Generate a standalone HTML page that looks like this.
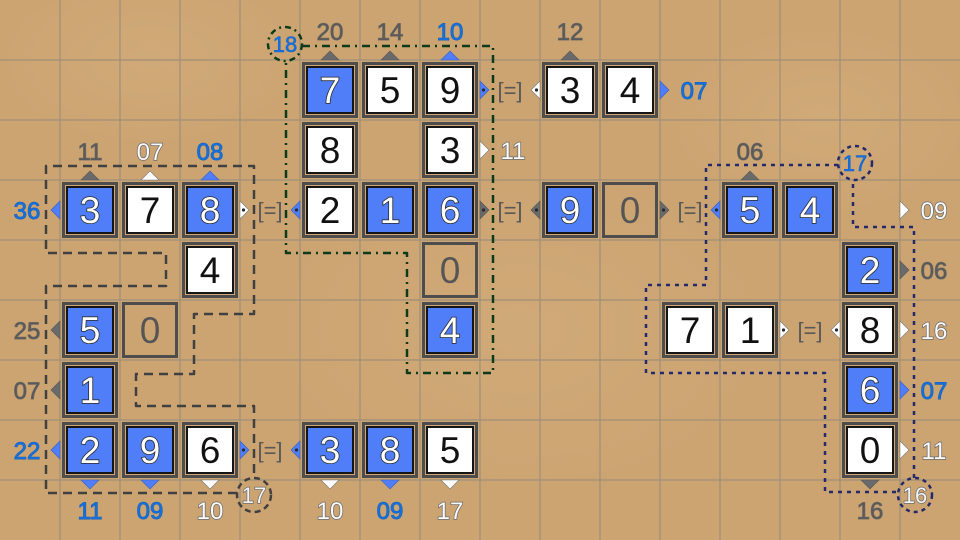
<!DOCTYPE html>
<html><head><meta charset="utf-8">
<style>
html,body{margin:0;padding:0;background:#cca472;}
svg{display:block;}
text{font-family:"Liberation Sans",Arial,sans-serif;text-anchor:middle;}
.dw{font-size:37px;fill:#fff;stroke:#2a2a2a;stroke-width:1.6px;paint-order:stroke;}
.dk{font-size:37px;fill:#111;}
.de{font-size:37px;fill:#555;}
.lb{font-size:24px;fill:#1570dc;stroke:#1a5fb0;stroke-width:0.9px;paint-order:stroke;}
.lg{font-size:24px;fill:#5a5a5a;stroke:#7a7062;stroke-width:1px;paint-order:stroke;}
.lw{font-size:24px;fill:#fbfbfb;stroke:#6a6a6a;stroke-width:1.5px;paint-order:stroke;}
.eq{font-size:22px;fill:#585858;}
.cb{font-size:22px;fill:#1570dc;stroke:#1a5fb0;stroke-width:0.6px;paint-order:stroke;}
.cw{font-size:22px;fill:#f4f4f4;stroke:#6a6a6a;stroke-width:1.4px;paint-order:stroke;}
</style></head>
<body>
<svg width="960" height="540" viewBox="0 0 960 540" xmlns="http://www.w3.org/2000/svg">
<defs>
  <radialGradient id="sw1" cx="0.5" cy="0.5" r="0.5">
    <stop offset="0" stop-color="#d3ad7c" stop-opacity="0.6"/>
    <stop offset="1" stop-color="#d3ad7c" stop-opacity="0"/>
  </radialGradient>
  <g id="tb"><rect x="3.5" y="3.5" width="53" height="53" fill="#cfa775" stroke="#4d4d4d" stroke-width="3"/><rect x="7" y="7" width="46" height="46" fill="#4f7ef8" stroke="#151515" stroke-width="2"/></g>
  <g id="tw"><rect x="3.5" y="3.5" width="53" height="53" fill="#cfa775" stroke="#4d4d4d" stroke-width="3"/><rect x="7" y="7" width="46" height="46" fill="#ffffff" stroke="#151515" stroke-width="2"/></g>
  <g id="te"><rect x="3.5" y="3.5" width="53" height="53" fill="none" stroke="#4d4d4d" stroke-width="3"/></g>
</defs>
<rect width="960" height="540" fill="#cca472"/>
<ellipse cx="520" cy="330" rx="260" ry="170" fill="url(#sw1)"/>
<ellipse cx="150" cy="60" rx="160" ry="90" fill="url(#sw1)"/>
<ellipse cx="820" cy="120" rx="160" ry="100" fill="url(#sw1)"/>
<!-- grid -->
<g stroke="#9e8f78" stroke-width="1.2">
<line x1="60" y1="0" x2="60" y2="540"/><line x1="120" y1="0" x2="120" y2="540"/><line x1="180" y1="0" x2="180" y2="540"/><line x1="240" y1="0" x2="240" y2="540"/><line x1="300" y1="0" x2="300" y2="540"/><line x1="360" y1="0" x2="360" y2="540"/><line x1="420" y1="0" x2="420" y2="540"/><line x1="480" y1="0" x2="480" y2="540"/><line x1="540" y1="0" x2="540" y2="540"/><line x1="600" y1="0" x2="600" y2="540"/><line x1="660" y1="0" x2="660" y2="540"/><line x1="720" y1="0" x2="720" y2="540"/><line x1="780" y1="0" x2="780" y2="540"/><line x1="840" y1="0" x2="840" y2="540"/><line x1="900" y1="0" x2="900" y2="540"/>
<line x1="0" y1="60" x2="960" y2="60"/><line x1="0" y1="120" x2="960" y2="120"/><line x1="0" y1="180" x2="960" y2="180"/><line x1="0" y1="240" x2="960" y2="240"/><line x1="0" y1="300" x2="960" y2="300"/><line x1="0" y1="360" x2="960" y2="360"/><line x1="0" y1="420" x2="960" y2="420"/><line x1="0" y1="480" x2="960" y2="480"/>
</g>

<!-- cages -->
<g fill="none" stroke-width="2.5" stroke-linejoin="round">
  <path d="M237,493 H46 V286 H166 V253 H46 V166 H254 V314 H194 V374 H136 V406 H254 V478" stroke="#404040" stroke-dasharray="9 6"/>
  <circle cx="254" cy="495" r="17" stroke="#404040" stroke-dasharray="6 4"/>
  <path d="M302,46 H493 V373 H407 V253 H286 V61" stroke="#0e3a1c" stroke-dasharray="8 5 2 5"/>
  <circle cx="285" cy="44" r="17" stroke="#0e3a1c" stroke-dasharray="6 4 2 4"/>
  <path d="M838,165 H706 V285 H646 V373 H825 V492 H898" stroke="#24296a" stroke-dasharray="4 5"/>
  <path d="M914,478 V227 H853 V180" stroke="#24296a" stroke-dasharray="4 5"/>
  <circle cx="855" cy="163" r="17" stroke="#24296a" stroke-dasharray="4 4"/>
  <circle cx="915" cy="495" r="17" stroke="#24296a" stroke-dasharray="4 4"/>
</g>
<text class="cw" x="254" y="503">17</text>
<text class="cb" x="285" y="52">18</text>
<text class="cb" x="855" y="171">17</text>
<text class="cw" x="915" y="503">16</text>

<!-- tiles blue -->
<g transform="translate(300,60)"><use href="#tb"/><text class="dw" x="30" y="43">7</text></g>
<g transform="translate(60,180)"><use href="#tb"/><text class="dw" x="30" y="43">3</text></g>
<g transform="translate(180,180)"><use href="#tb"/><text class="dw" x="30" y="43">8</text></g>
<g transform="translate(360,180)"><use href="#tb"/><text class="dw" x="30" y="43">1</text></g>
<g transform="translate(420,180)"><use href="#tb"/><text class="dw" x="30" y="43">6</text></g>
<g transform="translate(540,180)"><use href="#tb"/><text class="dw" x="30" y="43">9</text></g>
<g transform="translate(720,180)"><use href="#tb"/><text class="dw" x="30" y="43">5</text></g>
<g transform="translate(780,180)"><use href="#tb"/><text class="dw" x="30" y="43">4</text></g>
<g transform="translate(840,240)"><use href="#tb"/><text class="dw" x="30" y="43">2</text></g>
<g transform="translate(60,300)"><use href="#tb"/><text class="dw" x="30" y="43">5</text></g>
<g transform="translate(420,300)"><use href="#tb"/><text class="dw" x="30" y="43">4</text></g>
<g transform="translate(60,360)"><use href="#tb"/><text class="dw" x="30" y="43">1</text></g>
<g transform="translate(840,360)"><use href="#tb"/><text class="dw" x="30" y="43">6</text></g>
<g transform="translate(60,420)"><use href="#tb"/><text class="dw" x="30" y="43">2</text></g>
<g transform="translate(120,420)"><use href="#tb"/><text class="dw" x="30" y="43">9</text></g>
<g transform="translate(300,420)"><use href="#tb"/><text class="dw" x="30" y="43">3</text></g>
<g transform="translate(360,420)"><use href="#tb"/><text class="dw" x="30" y="43">8</text></g>
<!-- tiles white -->
<g transform="translate(360,60)"><use href="#tw"/><text class="dk" x="30" y="43">5</text></g>
<g transform="translate(420,60)"><use href="#tw"/><text class="dk" x="30" y="43">9</text></g>
<g transform="translate(540,60)"><use href="#tw"/><text class="dk" x="30" y="43">3</text></g>
<g transform="translate(600,60)"><use href="#tw"/><text class="dk" x="30" y="43">4</text></g>
<g transform="translate(300,120)"><use href="#tw"/><text class="dk" x="30" y="43">8</text></g>
<g transform="translate(420,120)"><use href="#tw"/><text class="dk" x="30" y="43">3</text></g>
<g transform="translate(120,180)"><use href="#tw"/><text class="dk" x="30" y="43">7</text></g>
<g transform="translate(300,180)"><use href="#tw"/><text class="dk" x="30" y="43">2</text></g>
<g transform="translate(180,240)"><use href="#tw"/><text class="dk" x="30" y="43">4</text></g>
<g transform="translate(660,300)"><use href="#tw"/><text class="dk" x="30" y="43">7</text></g>
<g transform="translate(720,300)"><use href="#tw"/><text class="dk" x="30" y="43">1</text></g>
<g transform="translate(840,300)"><use href="#tw"/><text class="dk" x="30" y="43">8</text></g>
<g transform="translate(180,420)"><use href="#tw"/><text class="dk" x="30" y="43">6</text></g>
<g transform="translate(420,420)"><use href="#tw"/><text class="dk" x="30" y="43">5</text></g>
<g transform="translate(840,420)"><use href="#tw"/><text class="dk" x="30" y="43">0</text></g>
<!-- empty tiles -->
<g transform="translate(600,180)"><use href="#te"/><text class="de" x="30" y="43">0</text></g>
<g transform="translate(420,240)"><use href="#te"/><text class="de" x="30" y="43">0</text></g>
<g transform="translate(120,300)"><use href="#te"/><text class="de" x="30" y="43">0</text></g>

<!-- clue triangles -->
<g stroke-width="0.6">
<!-- top -->
<polygon points="81,180 99,180 90,171" fill="#6a6a6a" stroke="#555"/>
<polygon points="141,180 159,180 150,171" fill="#fff" stroke="#777"/>
<polygon points="201,180 219,180 210,171" fill="#4f7ef8" stroke="#3a5fc0"/>
<polygon points="321,60 339,60 330,51" fill="#6a6a6a" stroke="#555"/>
<polygon points="381,60 399,60 390,51" fill="#6a6a6a" stroke="#555"/>
<polygon points="441,60 459,60 450,51" fill="#4f7ef8" stroke="#3a5fc0"/>
<polygon points="561,60 579,60 570,51" fill="#6a6a6a" stroke="#555"/>
<polygon points="741,180 759,180 750,171" fill="#6a6a6a" stroke="#555"/>
<!-- bottom -->
<polygon points="81,480 99,480 90,489" fill="#4f7ef8" stroke="#3a5fc0"/>
<polygon points="141,480 159,480 150,489" fill="#4f7ef8" stroke="#3a5fc0"/>
<polygon points="201,480 219,480 210,489" fill="#fff" stroke="#777"/>
<polygon points="321,480 339,480 330,489" fill="#fff" stroke="#777"/>
<polygon points="381,480 399,480 390,489" fill="#4f7ef8" stroke="#3a5fc0"/>
<polygon points="441,480 459,480 450,489" fill="#fff" stroke="#777"/>
<polygon points="861,480 879,480 870,489" fill="#6a6a6a" stroke="#555"/>
<!-- left -->
<polygon points="60,201 60,219 51,210" fill="#4f7ef8" stroke="#3a5fc0"/>
<polygon points="60,321 60,339 51,330" fill="#6a6a6a" stroke="#555"/>
<polygon points="60,381 60,399 51,390" fill="#6a6a6a" stroke="#555"/>
<polygon points="60,441 60,459 51,450" fill="#4f7ef8" stroke="#3a5fc0"/>
<!-- right -->
<polygon points="660,81 660,99 669,90" fill="#4f7ef8" stroke="#3a5fc0"/>
<polygon points="480,141 480,159 489,150" fill="#fff" stroke="#777"/>
<polygon points="900,201 900,219 909,210" fill="#fff" stroke="#777"/>
<polygon points="900,261 900,279 909,270" fill="#6a6a6a" stroke="#555"/>
<polygon points="900,321 900,339 909,330" fill="#fff" stroke="#777"/>
<polygon points="900,381 900,399 909,390" fill="#4f7ef8" stroke="#3a5fc0"/>
<polygon points="900,441 900,459 909,450" fill="#fff" stroke="#777"/>
<!-- connectors -->
<polygon points="480,81 480,99 489,90" fill="#4f7ef8" stroke="#3a5fc0"/>
<polygon points="540,81 540,99 531,90" fill="#fff" stroke="#777"/>
<polygon points="240,201 240,219 249,210" fill="#fff" stroke="#777"/>
<polygon points="300,201 300,219 291,210" fill="#4f7ef8" stroke="#3a5fc0"/>
<polygon points="480,201 480,219 489,210" fill="#6a6a6a" stroke="#555"/>
<polygon points="540,201 540,219 531,210" fill="#6a6a6a" stroke="#555"/>
<polygon points="660,201 660,219 669,210" fill="#6a6a6a" stroke="#555"/>
<polygon points="720,201 720,219 711,210" fill="#4f7ef8" stroke="#3a5fc0"/>
<polygon points="780,321 780,339 789,330" fill="#fff" stroke="#777"/>
<polygon points="840,321 840,339 831,330" fill="#fff" stroke="#777"/>
<polygon points="240,441 240,459 249,450" fill="#4f7ef8" stroke="#3a5fc0"/>
<polygon points="300,441 300,459 291,450" fill="#4f7ef8" stroke="#3a5fc0"/>
</g>
<g fill="#2a2a2a">
<circle cx="483.5" cy="90" r="1.6"/><circle cx="536.5" cy="90" r="1.6"/>
<circle cx="243.5" cy="210" r="1.6"/><circle cx="296.5" cy="210" r="1.6"/>
<circle cx="483.5" cy="210" r="1.6"/><circle cx="536.5" cy="210" r="1.6"/>
<circle cx="663.5" cy="210" r="1.6"/><circle cx="716.5" cy="210" r="1.6"/>
<circle cx="783.5" cy="330" r="1.6"/><circle cx="836.5" cy="330" r="1.6"/>
<circle cx="243.5" cy="450" r="1.6"/><circle cx="296.5" cy="450" r="1.6"/>
</g>
<text class="eq" x="510" y="98">[=]</text>
<text class="eq" x="270" y="218">[=]</text>
<text class="eq" x="510" y="218">[=]</text>
<text class="eq" x="690" y="218">[=]</text>
<text class="eq" x="810" y="338">[=]</text>
<text class="eq" x="270" y="458">[=]</text>

<!-- labels top -->
<text class="lg" x="90" y="160">11</text>
<text class="lw" x="150" y="160">07</text>
<text class="lb" x="210" y="160">08</text>
<text class="lg" x="330" y="40">20</text>
<text class="lg" x="390" y="40">14</text>
<text class="lb" x="450" y="40">10</text>
<text class="lg" x="570" y="40">12</text>
<text class="lg" x="750" y="160">06</text>
<!-- labels bottom -->
<text class="lb" x="90" y="519">11</text>
<text class="lb" x="150" y="519">09</text>
<text class="lw" x="210" y="519">10</text>
<text class="lw" x="330" y="519">10</text>
<text class="lb" x="390" y="519">09</text>
<text class="lw" x="450" y="519">17</text>
<text class="lg" x="870" y="519">16</text>
<!-- labels left -->
<text class="lb" x="27" y="219">36</text>
<text class="lg" x="27" y="339">25</text>
<text class="lg" x="27" y="399">07</text>
<text class="lb" x="27" y="459">22</text>
<!-- labels right -->
<text class="lb" x="694" y="99">07</text>
<text class="lw" x="513" y="159">11</text>
<text class="lw" x="934" y="219">09</text>
<text class="lg" x="934" y="279">06</text>
<text class="lw" x="934" y="339">16</text>
<text class="lb" x="934" y="399">07</text>
<text class="lw" x="934" y="459">11</text>
</svg>
</body></html>
